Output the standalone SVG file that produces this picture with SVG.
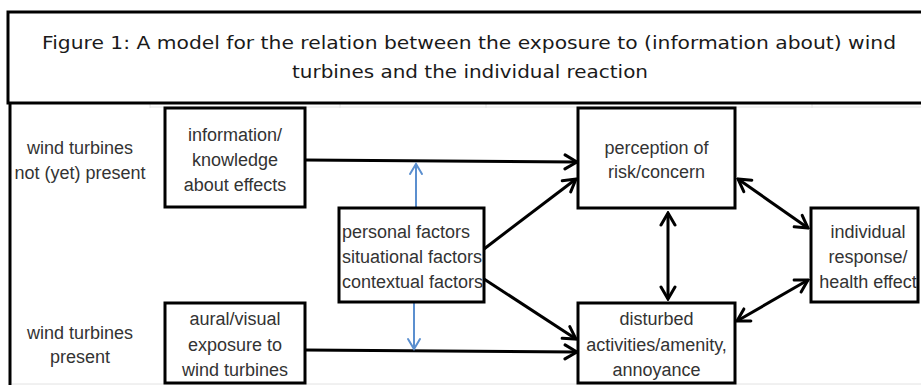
<svg xmlns="http://www.w3.org/2000/svg" width="921" height="385" viewBox="0 0 921 385">
<style>
.box{fill:#fff;stroke:#000;stroke-width:3}
.t{font-family:"Liberation Sans",Arial,sans-serif;font-size:18px;fill:#333;text-anchor:middle}
.tl{text-anchor:start}
.title{font-family:"DejaVu Sans",Verdana,sans-serif;font-size:17.5px;fill:#1a1a1a;text-anchor:middle}
.c{fill:none;stroke:#000;stroke-width:3}
.b{fill:none;stroke:#5b8fcf;stroke-width:2}
.grid{fill:none;stroke:#e2e2e2;stroke-width:1}
</style>
<defs>
<marker id="ah" viewBox="0 0 16 18" refX="14" refY="9" markerWidth="16" markerHeight="18" orient="auto-start-reverse" markerUnits="userSpaceOnUse">
<path d="M2,2 L14,9 L2,16" fill="none" stroke="#000" stroke-width="3" stroke-linecap="round" stroke-linejoin="miter"/>
</marker>
<marker id="bh" viewBox="0 0 14 16" refX="12" refY="8" markerWidth="14" markerHeight="16" orient="auto-start-reverse" markerUnits="userSpaceOnUse">
<path d="M2,2 L12,8 L2,14" fill="none" stroke="#5b8fcf" stroke-width="2" stroke-linecap="round"/>
</marker>
</defs>
<rect width="921" height="385" fill="#fff"/>
<g id="grid">
<path class="grid" d="M150,107 H921 M150,103 V108 M340,103 V108 M486,103 V108 M812,103 V108 M12,384 H921"/>
</g>
<g id="title">
<rect x="8" y="12" width="920" height="91" fill="#fff" stroke="#000" stroke-width="3"/>
<text class="title" x="469" y="49" textLength="854" lengthAdjust="spacingAndGlyphs">Figure 1: A model for the relation between the exposure to (information about) wind</text>
<text class="title" x="470" y="78" textLength="356" lengthAdjust="spacingAndGlyphs">turbines and the individual reaction</text>
</g>
<g id="frame">
<path d="M10,102 V385" stroke="#000" stroke-width="3" fill="none"/>
</g>
<g id="label-not-present">
<text class="t" x="80" y="154">wind turbines</text>
<text class="t" x="80" y="179">not (yet) present</text>
</g>
<g id="label-present">
<text class="t" x="80" y="339">wind turbines</text>
<text class="t" x="80" y="363">present</text>
</g>
<g id="connectors">
<path class="c" d="M305,160 L577,162" marker-end="url(#ah)"/>
<path class="c" d="M305,350 L577,352" marker-end="url(#ah)"/>
<path class="c" d="M484,249 L576,179" marker-end="url(#ah)"/>
<path class="c" d="M484,279 L576,339" marker-end="url(#ah)"/>
<path class="c" d="M668,213 L668,299" marker-start="url(#ah)" marker-end="url(#ah)"/>
<path class="c" d="M738,179 L808,228" marker-start="url(#ah)" marker-end="url(#ah)"/>
<path class="c" d="M737,321 L808,280" marker-start="url(#ah)" marker-end="url(#ah)"/>
<path class="b" d="M416,208 L416,164" marker-end="url(#bh)"/>
<path class="b" d="M414,302 L414,349" marker-end="url(#bh)"/>
</g>
<g id="info">
<rect class="box" x="165" y="108" width="140" height="99"/>
<text class="t" x="235" y="141">information/</text>
<text class="t" x="235" y="166">knowledge</text>
<text class="t" x="235" y="191">about effects</text>
</g>
<g id="aural">
<rect class="box" x="165" y="303" width="140" height="80"/>
<text class="t" x="235" y="325">aural/visual</text>
<text class="t" x="235" y="351">exposure to</text>
<text class="t" x="235" y="376">wind turbines</text>
</g>
<g id="factors">
<rect class="box" x="339" y="208" width="145" height="94"/>
<text class="t tl" x="342" y="238">personal factors</text>
<text class="t tl" x="342" y="263">situational factors</text>
<text class="t tl" x="342" y="288">contextual factors</text>
</g>
<g id="perception">
<rect class="box" x="578" y="108" width="157" height="100"/>
<text class="t" x="656.5" y="154">perception of</text>
<text class="t" x="656.5" y="178">risk/concern</text>
</g>
<g id="disturbed">
<rect class="box" x="578" y="303" width="157" height="80"/>
<text class="t" x="656.5" y="325">disturbed</text>
<text class="t" x="656.5" y="351">activities/amenity,</text>
<text class="t" x="656.5" y="376">annoyance</text>
</g>
<g id="individual">
<rect class="box" x="811" y="208" width="107" height="94"/>
<text class="t" x="868" y="238">individual</text>
<text class="t" x="868" y="263">response/</text>
<text class="t" x="868" y="288">health effect</text>
</g>
</svg>
